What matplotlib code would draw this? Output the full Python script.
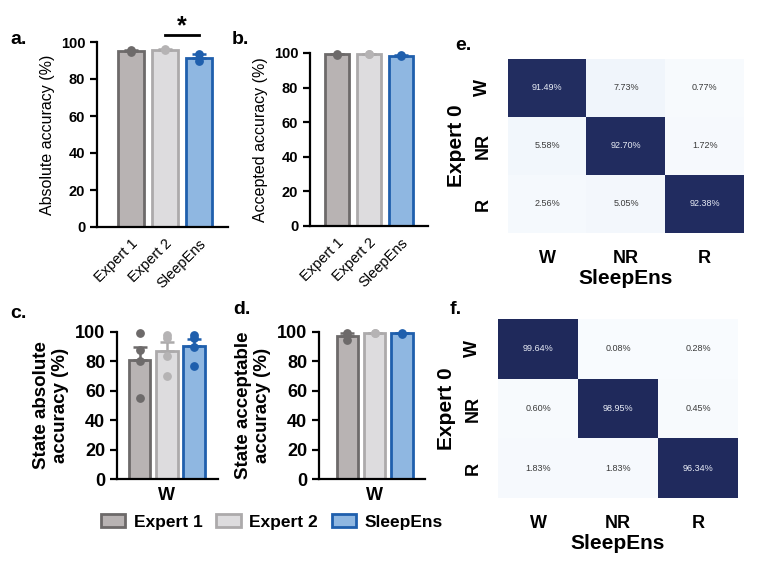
import numpy as np
import matplotlib
matplotlib.use("Agg")
import matplotlib.pyplot as plt
from matplotlib.patches import Patch
from matplotlib.colors import LinearSegmentedColormap

plt.rcParams['font.family'] = ['Liberation Sans', 'DejaVu Sans']

# ---- data ----
groups = ['Expert 1', 'Expert 2', 'SleepEns']

abs_points = [[95.6, 94.6], [96.0, 95.8], [93.3, 89.5]]
acc_points = [[99.4, 99.0], [99.5, 99.3], [98.6, 98.2]]

state_abs_points = [[99.5, 88, 80, 55], [98, 96, 84, 70], [98, 96, 90, 77]]
state_acc_points = [[99.5, 94.5], [99.6, 99.2], [99.5, 98.8]]

stages = ['W', 'NR', 'R']
conf_e = np.array([[91.49, 7.73, 0.77],
                   [5.58, 92.70, 1.72],
                   [2.56, 5.05, 92.38]])
conf_f = np.array([[99.64, 0.08, 0.28],
                   [0.60, 98.95, 0.45],
                   [1.83, 1.83, 96.34]])

fills = ['#b8b3b3', '#dddcde', '#8fb7e1']
edges = ['#6d6a6a', '#acaaab', '#1f5fad']
dots = ['#6d6a6a', '#b5b3b4', '#1f5fad']

W, H = 760, 562
fig = plt.figure(figsize=(W / 100, H / 100), dpi=100)


def ax_px(l, t, r, b):
    return fig.add_axes([l / W, 1 - b / H, (r - l) / W, (b - t) / H])


def bar_panel(ax, pts, xlim, width, fs_tick, ylabel, fs_lab, bold_lab):
    means = [np.mean(p) for p in pts]
    sems = [np.std(p, ddof=1) / np.sqrt(len(p)) for p in pts]
    x = np.arange(len(pts))
    ax.bar(x, means, width=width, color=fills, edgecolor=edges, linewidth=2, zorder=2)
    for i in range(len(pts)):
        ax.errorbar(x[i], means[i], yerr=[[0], [sems[i]]], color=edges[i], capsize=5,
                    elinewidth=1.8, capthick=1.8, zorder=3, clip_on=False)
        ax.scatter([x[i]] * len(pts[i]), pts[i], s=28, color=dots[i], zorder=4, clip_on=False)
    ax.set_xlim(*xlim)
    ax.set_ylim(0, 100)
    ax.set_yticks([0, 20, 40, 60, 80, 100])
    for s in ['top', 'right']:
        ax.spines[s].set_visible(False)
    for s in ['left', 'bottom']:
        ax.spines[s].set_linewidth(1.6)
    ax.tick_params(axis='y', width=1.6, length=5, labelsize=fs_tick)
    for lab in ax.get_yticklabels():
        lab.set_fontweight('bold')
    ax.set_ylabel(ylabel, fontsize=fs_lab, fontweight='bold' if bold_lab else 'normal')
    return x


# a.
ax_a = ax_px(97, 42, 228, 227)
x = bar_panel(ax_a, abs_points, (-1.0, 2.85), 0.76, 10.5, 'Absolute accuracy (%)', 11.5, False)
ax_a.set_xticks(x)
ax_a.set_xticklabels(groups, rotation=45, ha='right', rotation_mode='anchor', fontsize=10.5)
ax_a.tick_params(axis='x', length=0, pad=7)
ax_a.plot([1, 2], [104, 104], color='black', lw=2, clip_on=False)
ax_a.text(1.5, 108.5, '*', ha='center', va='center', fontsize=18, fontweight='bold')

# b.
ax_b = ax_px(310, 53, 428, 226)
x = bar_panel(ax_b, acc_points, (-0.84, 2.84), 0.75, 10.5, 'Accepted accuracy (%)', 11.5, False)
ax_b.set_xticks(x)
ax_b.set_xticklabels(groups, rotation=45, ha='right', rotation_mode='anchor', fontsize=10.5)
ax_b.tick_params(axis='x', length=0, pad=7)

# c.
ax_c = ax_px(117, 332, 218, 479)
bar_panel(ax_c, state_abs_points, (-0.83, 2.89), 0.8, 13, 'State absolute\naccuracy (%)', 13.5, True)
ax_c.set_xticks([1])
ax_c.set_xticklabels(['W'], fontsize=13, fontweight='bold')
ax_c.tick_params(axis='x', length=0, pad=6)

# d.
ax_d = ax_px(319, 332, 425, 479)
bar_panel(ax_d, state_acc_points, (-1.04, 2.84), 0.78, 13, 'State acceptable\naccuracy (%)', 13.5, True)
ax_d.set_xticks([1])
ax_d.set_xticklabels(['W'], fontsize=13, fontweight='bold')
ax_d.tick_params(axis='x', length=0, pad=6)

# legend
handles = [Patch(facecolor=fills[i], edgecolor=edges[i], linewidth=2, label=groups[i]) for i in range(3)]
fig.legend(handles=handles, loc='center', bbox_to_anchor=(272 / W, 1 - 522 / H), ncol=3,
           frameon=False, prop={'weight': 'bold', 'size': 12.5}, handlelength=1.4, handleheight=0.8,
           columnspacing=0.8, handletextpad=0.5)

# heatmaps
cmap = LinearSegmentedColormap.from_list(
    'nv', [(0, '#f8fbfe'), (0.1, '#eef4fb'), (0.5, '#8d9bc0'), (0.9, '#232e62'), (1, '#1f295b')])


def heat_panel(ax, mat):
    ax.imshow(mat, cmap=cmap, vmin=0, vmax=100, aspect='auto')
    for i in range(3):
        for j in range(3):
            ax.text(j, i, f'{mat[i, j]:.2f}%', ha='center', va='center', fontsize=6.5,
                    color='#e8ecf5' if mat[i, j] > 50 else '#3a3a3a')
    ax.set_xticks(range(3))
    ax.set_yticks(range(3))
    ax.set_xticklabels(stages, fontsize=13, fontweight='bold')
    ax.set_yticklabels(stages, fontsize=13, fontweight='bold', rotation=90, va='center')
    ax.tick_params(length=0, pad=12)
    for s in ax.spines.values():
        s.set_visible(False)
    ax.set_xlabel('SleepEns', fontsize=15, fontweight='bold', labelpad=2)
    ax.set_ylabel('Expert 0', fontsize=15, fontweight='bold', labelpad=6)


ax_e = ax_px(508, 59, 744, 233)
heat_panel(ax_e, conf_e)
ax_f = ax_px(498, 319, 738, 498)
heat_panel(ax_f, conf_f)

# panel letters
for lab, px, py in [('a.', 10, 40), ('b.', 232, 40), ('e.', 455, 45),
                    ('c.', 10, 313), ('d.', 233, 310), ('f.', 450, 310)]:
    fig.text(px / W, 1 - py / H, lab, fontsize=14, fontweight='bold', ha='left', va='center')

fig.savefig('out.png', dpi=100)
